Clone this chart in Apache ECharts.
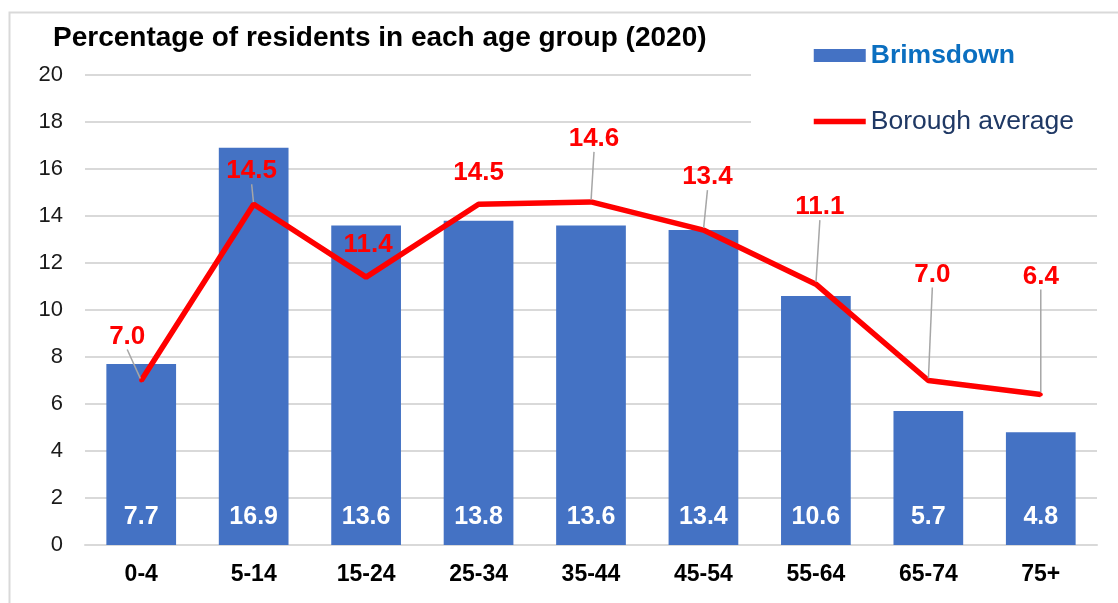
<!DOCTYPE html>
<html>
<head>
<meta charset="utf-8">
<script src="https://cdn.jsdelivr.net/npm/echarts@6/dist/echarts.min.js"></script>
<style>
  html, body { margin: 0; padding: 0; background: #fff; }
  #chart { width: 1118px; height: 603px; }
</style>
</head>
<body>
<div id="chart"></div>
<script>
// age groups along the x axis
var ageGroups = ['0-4', '5-14', '15-24', '25-34', '35-44', '45-54', '55-64', '65-74', '75+']
// % of residents, Brimsdown ward (bars)
var brimsdown = [7.7, 16.9, 13.6, 13.8, 13.6, 13.4, 10.6, 5.7, 4.8]
// % of residents, borough average (line)
var boroughAvg = [7.0, 14.5, 11.4, 14.5, 14.6, 13.4, 11.1, 7.0, 6.4]
var yTicks = [0, 2, 4, 6, 8, 10, 12, 14, 16, 18, 20]

// where the red labels sit, relative to their point (px), and which get a leader line
var labelDx = [-14, -2, 2, 0, 3, 4, 4, 4, 0]
var labelDy = [-44, -33, -32, -31, -63, -53, -77, -106, -118]
var leader = [true, true, false, false, true, true, true, true, true]

var font = 'Liberation Sans, Arial, sans-serif'
var chart = echarts.init(document.getElementById('chart'))

var lineData = boroughAvg.map(function(v, i) {
  return { value: v, labelLine: { show: leader[i] } }
})

chart.setOption({
  animation: false,
  textStyle: { fontFamily: font },
  title: {
    text: 'Percentage of residents in each age group (2020)',
    left: 53,
    top: 24,
    padding: 0,
    textStyle: {
      color: '#000',
      fontSize: 28,
      fontWeight: 'bold',
      fontFamily: font
    }
  },
  graphic: [{
    // light frame round the chart
    type: 'rect',
    left: 7,
    top: 10,
    shape: { width: 1200, height: 700 },
    style: { fill: 'none', stroke: '#D9D9D9', lineWidth: 2 },
    silent: true
  }],
  legend: {
    orient: 'vertical',
    left: 751,
    top: 30,
    padding: [12, 50, 16, 60],
    backgroundColor: '#fff',
    itemWidth: 52,
    itemHeight: 13,
    itemGap: 39,
    z: 5,
    data: [{
      name: 'Brimsdown',
      icon: 'rect',
      textStyle: { color: '#0B6FC0', fontWeight: 'bold', fontSize: 26.5, fontFamily: font }
    }, {
      name: 'Borough average',
      itemStyle: { opacity: 0 },
      lineStyle: { width: 5.5, color: '#FF0000' },
      textStyle: { color: '#1F3864', fontSize: 26.5, fontFamily: font }
    }]
  },
  grid: {
    left: 85,
    right: 21,
    top: 75,
    bottom: 58
  },
  xAxis: {
    type: 'category',
    data: ageGroups,
    axisTick: { show: false },
    axisLine: { lineStyle: { color: '#D9D9D9', width: 2 } },
    axisLabel: {
      color: '#000',
      fontSize: 23,
      fontWeight: 'bold',
      margin: 18,
      fontFamily: font
    }
  },
  yAxis: {
    type: 'value',
    min: yTicks[0],
    max: yTicks[yTicks.length - 1],
    interval: 2,
    axisLine: { show: false },
    axisTick: { show: false },
    splitLine: { lineStyle: { color: '#D9D9D9', width: 2 } },
    axisLabel: {
      color: '#1a1a1a',
      fontSize: 22,
      margin: 22,
      fontFamily: font
    }
  },
  series: [{
    name: 'Brimsdown',
    type: 'bar',
    data: brimsdown,
    barCategoryGap: '38%',
    itemStyle: { color: '#4472C4' },
    label: {
      show: true,
      position: 'insideBottom',
      distance: 15,
      color: '#fff',
      fontSize: 25,
      fontWeight: 'bold',
      fontFamily: font,
      formatter: function(p) {
        return p.value.toFixed(1)
      }
    }
  }, {
    name: 'Borough average',
    type: 'line',
    data: lineData,
    symbol: 'circle',
    symbolSize: 4,
    z: 3,
    itemStyle: { color: '#FF0000' },
    lineStyle: { color: '#FF0000', width: 5.5 },
    label: {
      show: true,
      position: 'top',
      color: '#FF0000',
      fontSize: 26,
      fontWeight: 'bold',
      fontFamily: font,
      formatter: function(p) {
        return p.value.toFixed(1)
      }
    },
    labelLine: {
      show: true,
      lineStyle: { color: '#A6A6A6', width: 1.5 }
    },
    labelLayout: function(p) {
      var i = p.dataIndex
      return {
        x: p.rect.x + p.rect.width / 2 + labelDx[i],
        y: p.rect.y + p.rect.height / 2 + labelDy[i],
        align: 'center',
        verticalAlign: 'middle'
      }
    }
  }]
})
</script>
</body>
</html>
